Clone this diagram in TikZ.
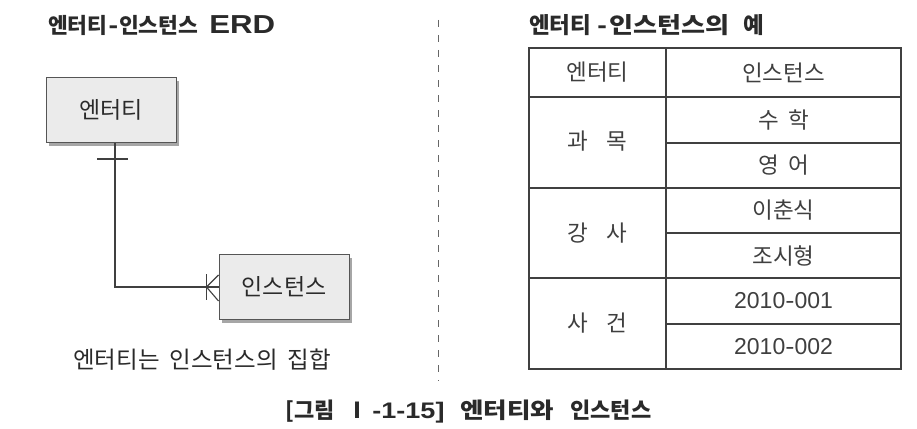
\documentclass[tikz,border=0pt]{standalone}
\usepackage{fontspec}
\setmainfont{Noto Sans CJK KR}
\newfontfamily\kwide[FakeStretch=1.16]{Noto Sans CJK KR}
\newfontfamily\lfont{Liberation Sans}
\newfontfamily\lwide[FakeStretch=1.2]{Liberation Sans}
\usetikzlibrary{shadows}
\definecolor{txt}{HTML}{2A2A2A}
\definecolor{boxfill}{HTML}{EBEBEB}
\definecolor{boxline}{HTML}{555555}
\begin{document}
\begin{tikzpicture}[x=1pt,y=-1pt,
  title/.style={font=\fontsize{21.5}{24}\selectfont\bfseries, text=txt, inner sep=0pt, anchor=west},
  ebox/.style={draw=boxline, fill=boxfill, line width=1pt, minimum width=130pt, minimum height=65pt,
    font=\fontsize{23}{26}\selectfont, text=txt,
    drop shadow={shadow xshift=3pt, shadow yshift=-3pt, fill=black!35, opacity=1}},
  cell/.style={font=\fontsize{22.5}{25}\selectfont, text=txt!90, inner sep=0pt},
  numcell/.style={cell, font=\lfont\fontsize{23}{25}\selectfont},
  tline/.style={draw=black!75, line width=1.2pt},
  conn/.style={draw=black!75, line width=1.1pt},
  sep/.style={draw=black!60, line width=1pt, dash pattern=on 7pt off 8pt}]
\useasboundingbox (0,0) rectangle (917,428);

% left part
\node[title] (lt) at (48,25) {엔터티\kern1pt{\lwide\bfseries\fontsize{24}{26}\selectfont -}\kern1pt인스턴스\hspace{11pt}{\lwide\fontsize{26}{28}\selectfont ERD}};
\node[ebox] (ent) at (111,110) {엔터티};
\node[ebox] (inst) at (284,287) {인스턴스};
\coordinate (top) at ([xshift=4pt]ent.south);
\draw[conn] (top) |- (inst.west);
\draw[conn] ([xshift=-18pt,yshift=-16pt]top) -- ([xshift=13pt,yshift=-16pt]top);
\draw[conn] ([xshift=-12pt]inst.west) -- ([yshift=12pt]inst.west);
\draw[conn] ([xshift=-12pt]inst.west) -- ([yshift=-14pt]inst.west);
\draw[conn] ([xshift=-12pt,yshift=13pt]inst.west) -- ([xshift=-12pt,yshift=-13pt]inst.west);
\node[font=\fontsize{23.5}{26}\selectfont, text=txt, inner sep=0pt, anchor=west] (cap) at (73,360)
  {엔터티는\hspace{10pt}인스턴스의\hspace{10pt}집합};

% separator
\coordinate (s1) at (438,20);
\coordinate (s2) at (438,381);
\draw[sep] (s1) -- (s2);

% right part
\node[title, font=\fontsize{22.5}{25}\selectfont\bfseries] (rt) at (529,25)
  {엔터티\hspace{6pt}{\lwide\bfseries\fontsize{24}{26}\selectfont -}\kern3pt{\kwide\bfseries 인스턴스의}\hspace{14pt}예};
\draw[tline] (529,48) rectangle (901,369);
\draw[tline] (666,48) -- (666,369);
\draw[tline] (529,97) -- (901,97);
\draw[tline] (529,188) -- (901,188);
\draw[tline] (529,278) -- (901,278);
\draw[tline] (666,143) -- (901,143);
\draw[tline] (666,233) -- (901,233);
\draw[tline] (666,324) -- (901,324);

\node[cell] (h1) at (597.5,72.5) {엔터티};
\node[cell] (h2) at (783.5,72.5) {인스턴스};
\node[cell] (g1) at (597.5,141) {과\hspace{18pt}목};
\node[cell] (a1) at (783.5,120) {수\hspace{9pt}학};
\node[cell] (a2) at (783.5,165.5) {영\hspace{9pt}어};
\node[cell] (g2) at (597.5,233) {강\hspace{18pt}사};
\node[cell] (b1) at (783.5,210.5) {이춘식};
\node[cell] (b2) at (783.5,255.5) {조시형};
\node[cell] (g3) at (597.5,323) {사\hspace{18pt}건};
\node[numcell] (c1) at (783.5,301) {2010{\lwide -}001};
\node[numcell] (c2) at (783.5,346.5) {2010{\lwide -}002};

% caption
\node[title, font=\fontsize{22}{24}\selectfont\bfseries] (fig) at (285,412)
  {[그림\hspace{12pt}Ⅰ\kern4pt{\lwide\fontsize{22.5}{24}\selectfont\bfseries -1-15]}\hspace{16pt}{\kwide\bfseries 엔터티와}\hspace{16pt}인스턴스};
\end{tikzpicture}
\end{document}
